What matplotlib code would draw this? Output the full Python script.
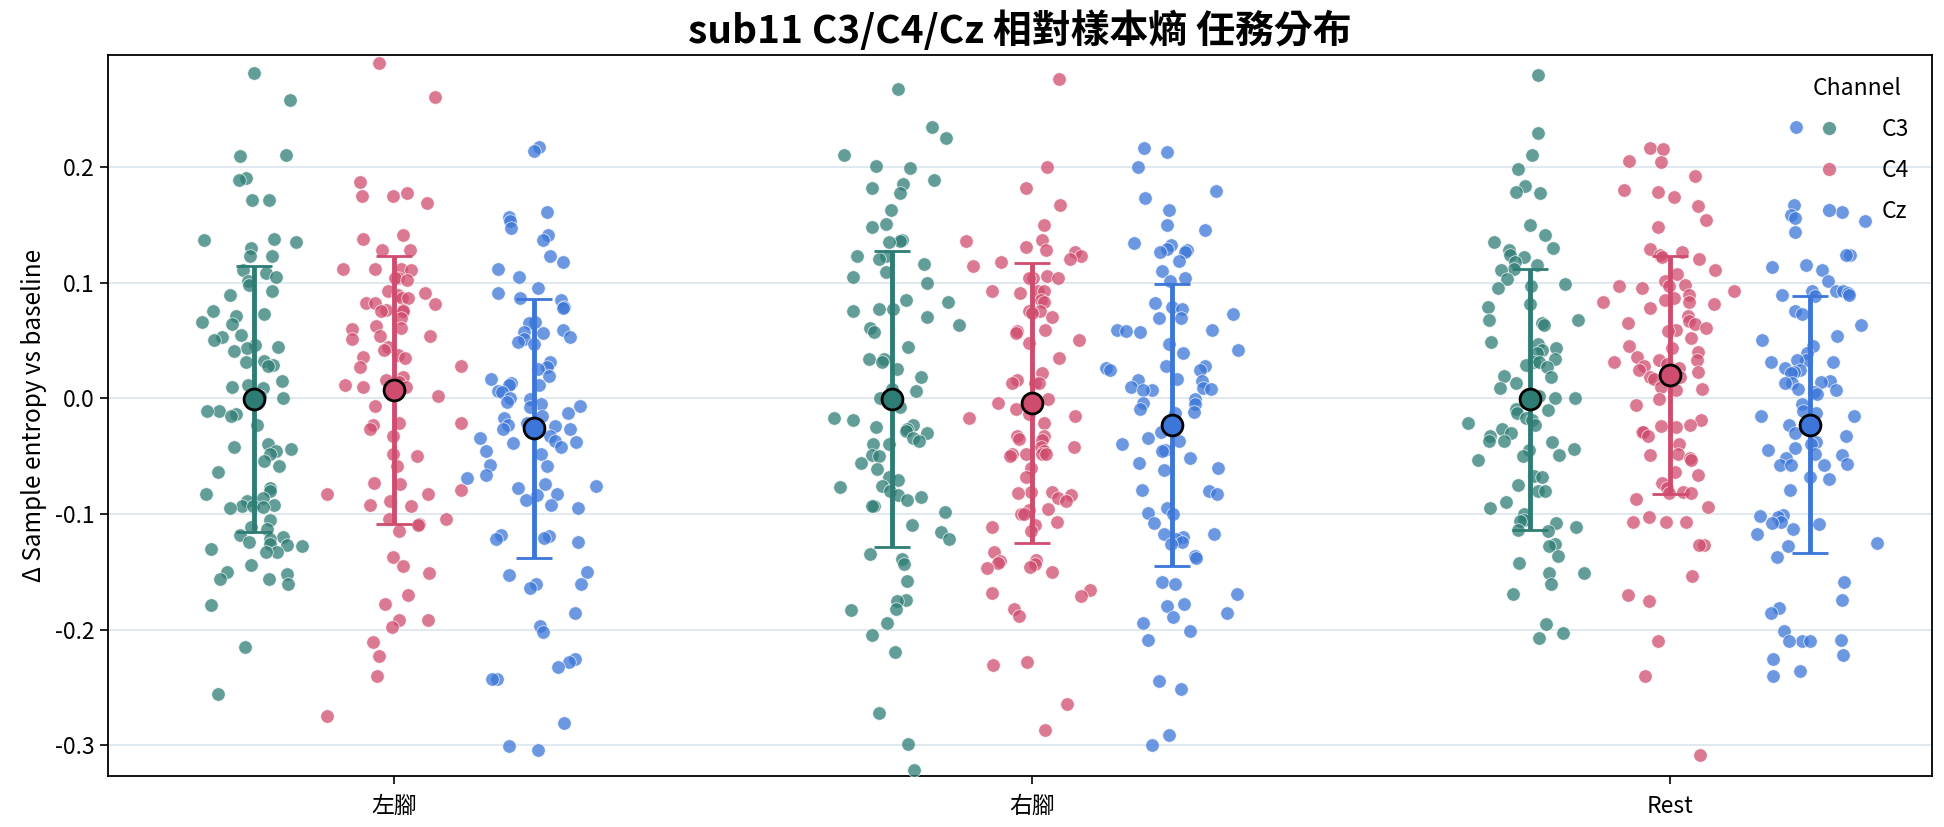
import numpy as np
import matplotlib
matplotlib.use("Agg")
import matplotlib.pyplot as plt
from matplotlib.lines import Line2D

plt.rcParams["font.family"] = ["Noto Sans CJK TC", "DejaVu Sans"]
plt.rcParams["axes.unicode_minus"] = False

tasks = ["左腳", "右腳", "Rest"]
channels = ["C3", "C4", "Cz"]

# values (relative sample entropy)
left_c3 = [0.281, 0.258, 0.210, 0.209, 0.190, 0.189, 0.171, 0.171, 0.138, 0.137, 0.135, 0.130, 0.123, 0.123,
           0.111, 0.108, 0.105, 0.101, 0.098, 0.093, 0.089, 0.075, 0.073, 0.071, 0.066, 0.064, 0.055, 0.053,
           0.050, 0.046, 0.044, 0.043, 0.041, 0.032, 0.029, 0.031, 0.028, 0.015, 0.011, 0.010, 0.009, 0.002,
           -0.000, -0.011, -0.014, -0.015, -0.011, -0.023, -0.040, -0.042, -0.044, -0.046, -0.048, -0.054,
           -0.059, -0.064, -0.078, -0.080, -0.083, -0.086, -0.089, -0.092, -0.093, -0.093, -0.094, -0.095,
           -0.105, -0.111, -0.113, -0.118, -0.120, -0.122, -0.124, -0.126, -0.127, -0.128, -0.130, -0.133,
           -0.133, -0.144, -0.150, -0.152, -0.156, -0.156, -0.161, -0.179, -0.215, -0.256]
left_c4 = [0.290, 0.260, 0.187, 0.177, 0.175, 0.175, 0.169, 0.141, 0.138, 0.128, 0.128, 0.112, 0.112, 0.112,
           0.111, 0.104, 0.104, 0.102, 0.093, 0.091, 0.089, 0.087, 0.087, 0.082, 0.082, 0.081, 0.076, 0.076,
           0.075, 0.075, 0.069, 0.062, 0.061, 0.060, 0.054, 0.054, 0.051, 0.044, 0.042, 0.037, 0.036, 0.035,
           0.028, 0.027, 0.018, 0.016, 0.014, 0.011, 0.010, 0.010, 0.008, 0.002, -0.007, -0.021, -0.021,
           -0.023, -0.027, -0.033, -0.048, -0.050, -0.059, -0.073, -0.074, -0.079, -0.083, -0.083, -0.089,
           -0.092, -0.093, -0.104, -0.104, -0.109, -0.110, -0.115, -0.137, -0.145, -0.151, -0.170, -0.178,
           -0.192, -0.192, -0.198, -0.211, -0.223, -0.240, -0.275]
left_cz = [0.217, 0.214, 0.161, 0.157, 0.153, 0.147, 0.141, 0.137, 0.123, 0.118, 0.112, 0.105, 0.095, 0.091,
           0.087, 0.085, 0.079, 0.078, 0.066, 0.065, 0.059, 0.057, 0.056, 0.053, 0.051, 0.049, 0.047, 0.031,
           0.027, 0.025, 0.019, 0.017, 0.013, 0.011, 0.011, 0.006, 0.005, -0.000, -0.001, -0.003, -0.005,
           -0.007, -0.008, -0.013, -0.015, -0.017, -0.021, -0.023, -0.024, -0.027, -0.027, -0.033, -0.034,
           -0.037, -0.038, -0.039, -0.042, -0.046, -0.048, -0.058, -0.059, -0.066, -0.069, -0.074, -0.076,
           -0.078, -0.083, -0.084, -0.088, -0.092, -0.095, -0.118, -0.119, -0.121, -0.122, -0.124, -0.150,
           -0.153, -0.161, -0.161, -0.164, -0.186, -0.197, -0.202, -0.225, -0.228, -0.232, -0.243, -0.243,
           -0.281, -0.301, -0.304]
right_c3 = [0.267, 0.234, 0.225, 0.210, 0.201, 0.199, 0.189, 0.185, 0.182, 0.177, 0.163, 0.151, 0.148, 0.137,
            0.136, 0.135, 0.123, 0.123, 0.120, 0.116, 0.109, 0.105, 0.100, 0.085, 0.083, 0.077, 0.077, 0.075,
            0.070, 0.063, 0.061, 0.057, 0.044, 0.034, 0.034, 0.031, 0.025, 0.018, 0.008, 0.006, -0.000,
            -0.008, -0.017, -0.019, -0.023, -0.025, -0.027, -0.028, -0.030, -0.034, -0.037, -0.040, -0.040,
            -0.049, -0.050, -0.056, -0.061, -0.068, -0.071, -0.076, -0.077, -0.080, -0.084, -0.085, -0.088,
            -0.093, -0.093, -0.098, -0.110, -0.116, -0.122, -0.135, -0.139, -0.143, -0.158, -0.174, -0.175,
            -0.182, -0.183, -0.194, -0.205, -0.219, -0.272, -0.299, -0.321]
right_c4 = [0.276, 0.200, 0.182, 0.167, 0.150, 0.137, 0.136, 0.131, 0.128, 0.126, 0.123, 0.120, 0.118, 0.114,
            0.106, 0.104, 0.104, 0.104, 0.093, 0.093, 0.093, 0.091, 0.085, 0.083, 0.075, 0.075, 0.074, 0.070,
            0.059, 0.058, 0.056, 0.050, 0.048, 0.035, 0.022, 0.016, 0.013, 0.013, 0.013, -0.001, -0.004,
            -0.009, -0.014, -0.015, -0.017, -0.021, -0.033, -0.033, -0.035, -0.036, -0.042, -0.042, -0.046,
            -0.048, -0.048, -0.048, -0.048, -0.050, -0.060, -0.068, -0.081, -0.081, -0.082, -0.084, -0.086,
            -0.089, -0.096, -0.097, -0.100, -0.100, -0.107, -0.110, -0.111, -0.115, -0.133, -0.140, -0.141,
            -0.142, -0.143, -0.146, -0.147, -0.150, -0.166, -0.168, -0.171, -0.182, -0.188, -0.228, -0.231,
            -0.264, -0.287]
right_cz = [0.216, 0.213, 0.200, 0.179, 0.173, 0.163, 0.150, 0.145, 0.134, 0.132, 0.129, 0.128, 0.126, 0.126,
            0.119, 0.110, 0.104, 0.101, 0.082, 0.079, 0.077, 0.073, 0.069, 0.069, 0.059, 0.059, 0.058, 0.057,
            0.047, 0.042, 0.039, 0.028, 0.028, 0.026, 0.024, 0.024, 0.017, 0.016, 0.015, 0.010, 0.009, 0.008,
            0.007, 0.007, -0.001, -0.004, -0.005, -0.009, -0.012, -0.013, -0.029, -0.034, -0.037, -0.040,
            -0.045, -0.046, -0.052, -0.056, -0.060, -0.062, -0.079, -0.080, -0.083, -0.095, -0.099, -0.100,
            -0.108, -0.117, -0.117, -0.120, -0.122, -0.124, -0.126, -0.136, -0.138, -0.159, -0.161, -0.169,
            -0.178, -0.180, -0.186, -0.189, -0.194, -0.201, -0.209, -0.244, -0.251, -0.291, -0.300]
rest_c3 = [0.279, 0.229, 0.210, 0.198, 0.183, 0.178, 0.177, 0.150, 0.141, 0.135, 0.130, 0.128, 0.124, 0.122,
           0.118, 0.115, 0.112, 0.111, 0.103, 0.099, 0.097, 0.095, 0.081, 0.079, 0.068, 0.068, 0.065, 0.063,
           0.049, 0.047, 0.043, 0.042, 0.039, 0.034, 0.031, 0.031, 0.029, 0.027, 0.019, 0.018, 0.013, 0.009,
           0.002, 0.000, 0.000, -0.009, -0.010, -0.013, -0.017, -0.019, -0.021, -0.023, -0.027, -0.030,
           -0.033, -0.037, -0.037, -0.038, -0.044, -0.045, -0.049, -0.050, -0.053, -0.067, -0.068, -0.075,
           -0.080, -0.080, -0.090, -0.095, -0.100, -0.105, -0.106, -0.108, -0.111, -0.114, -0.115, -0.126,
           -0.128, -0.136, -0.142, -0.151, -0.151, -0.161, -0.169, -0.195, -0.203, -0.207]
rest_c4 = [0.216, 0.215, 0.205, 0.204, 0.192, 0.180, 0.178, 0.174, 0.166, 0.154, 0.148, 0.129, 0.126, 0.124,
           0.122, 0.120, 0.111, 0.107, 0.101, 0.098, 0.097, 0.097, 0.095, 0.093, 0.089, 0.087, 0.085, 0.083,
           0.083, 0.081, 0.078, 0.071, 0.067, 0.065, 0.064, 0.061, 0.059, 0.058, 0.052, 0.045, 0.043, 0.040,
           0.036, 0.033, 0.033, 0.031, 0.030, 0.028, 0.026, 0.024, 0.023, 0.018, 0.018, 0.017, 0.010, 0.008,
           0.007, -0.001, -0.006, -0.019, -0.023, -0.024, -0.025, -0.029, -0.029, -0.033, -0.040, -0.048,
           -0.049, -0.052, -0.053, -0.064, -0.066, -0.073, -0.078, -0.081, -0.082, -0.082, -0.087, -0.094,
           -0.103, -0.107, -0.107, -0.107, -0.127, -0.127, -0.154, -0.170, -0.175, -0.210, -0.240, -0.308]
rest_cz = [0.234, 0.167, 0.161, 0.158, 0.156, 0.153, 0.144, 0.124, 0.124, 0.115, 0.113, 0.111, 0.101, 0.093,
           0.093, 0.093, 0.091, 0.089, 0.089, 0.088, 0.075, 0.073, 0.063, 0.054, 0.050, 0.045, 0.039, 0.033,
           0.033, 0.031, 0.031, 0.026, 0.024, 0.023, 0.022, 0.015, 0.014, 0.013, 0.013, 0.008, 0.007, 0.005,
           0.004, -0.005, -0.011, -0.013, -0.015, -0.015, -0.023, -0.030, -0.033, -0.038, -0.040, -0.043,
           -0.045, -0.048, -0.049, -0.052, -0.057, -0.058, -0.058, -0.058, -0.068, -0.070, -0.079, -0.101,
           -0.102, -0.103, -0.107, -0.108, -0.109, -0.113, -0.117, -0.125, -0.128, -0.137, -0.159, -0.174,
           -0.181, -0.186, -0.201, -0.209, -0.210, -0.210, -0.210, -0.222, -0.225, -0.236, -0.240]

c3_mean = [-0.001, -0.001, -0.001]
c4_mean = [0.007, -0.004, 0.020]
cz_mean = [-0.026, -0.023, -0.023]
c3_sd = [0.115, 0.128, 0.113]
c4_sd = [0.116, 0.121, 0.103]
cz_sd = [0.112, 0.122, 0.111]

points = {
    "C3": [left_c3, right_c3, rest_c3],
    "C4": [left_c4, right_c4, rest_c4],
    "Cz": [left_cz, right_cz, rest_cz],
}
means = {"C3": c3_mean, "C4": c4_mean, "Cz": cz_mean}
sds = {"C3": c3_sd, "C4": c4_sd, "Cz": cz_sd}
colors = {"C3": "#2e7d74", "C4": "#d04c6e", "Cz": "#3b76d8"}
offsets = {"C3": -0.22, "C4": 0.0, "Cz": 0.22}

fig = plt.figure(figsize=(19.44, 8.27), dpi=100)
ax = fig.add_axes([0.0556, 0.0617, 0.938, 0.8723])

# jitter for the strip (layout only, not data)
rng = np.random.default_rng(11)

for ch in channels:
    for i, vals in enumerate(points[ch]):
        vals = np.asarray(vals)
        jit = np.clip(rng.normal(0, 0.042, len(vals)), -0.105, 0.105)
        ax.scatter(i + offsets[ch] + jit, vals, s=95, color=colors[ch], alpha=0.75,
                   edgecolors="white", linewidths=0.6, zorder=3)

for ch in channels:
    xs = np.arange(len(tasks)) + offsets[ch]
    ax.errorbar(xs, means[ch], yerr=sds[ch], fmt="o", color=colors[ch], ecolor=colors[ch],
                elinewidth=3.5, capsize=13, capthick=2.2, markersize=15,
                markeredgecolor="black", markeredgewidth=2, zorder=5)

ax.set_xlim(-0.448, 2.41)
ax.set_ylim(-0.3265, 0.297)
ax.set_xticks(range(len(tasks)))
ax.set_xticklabels(tasks)
ax.set_yticks([-0.3, -0.2, -0.1, 0.0, 0.1, 0.2])
ax.set_yticklabels(["-0.3", "-0.2", "-0.1", "0.0", "0.1", "0.2"])
ax.tick_params(labelsize=16.5, length=6, width=1.2)
ax.tick_params(axis="x", pad=8)
ax.yaxis.grid(True, color="#dbe5ee", linewidth=1.2)
ax.set_axisbelow(True)
for sp in ax.spines.values():
    sp.set_linewidth(1.3)

ax.set_ylabel("Δ Sample entropy vs baseline", fontsize=17.5, labelpad=6)
ax.set_title("sub11 C3/C4/Cz 相對樣本熵 任務分布", fontsize=28, fontweight="bold", pad=8)

handles = [Line2D([], [], linestyle="none", marker="o", markersize=10, color=colors[ch],
                  alpha=0.75, markeredgecolor="white", markeredgewidth=0.6) for ch in channels]
ax.legend(handles, channels, title="Channel", loc="upper right", frameon=False,
          fontsize=16.5, title_fontsize=16.5, handletextpad=1.3, labelspacing=0.78,
          borderaxespad=0.6)

fig.savefig("out.png", dpi=100)
